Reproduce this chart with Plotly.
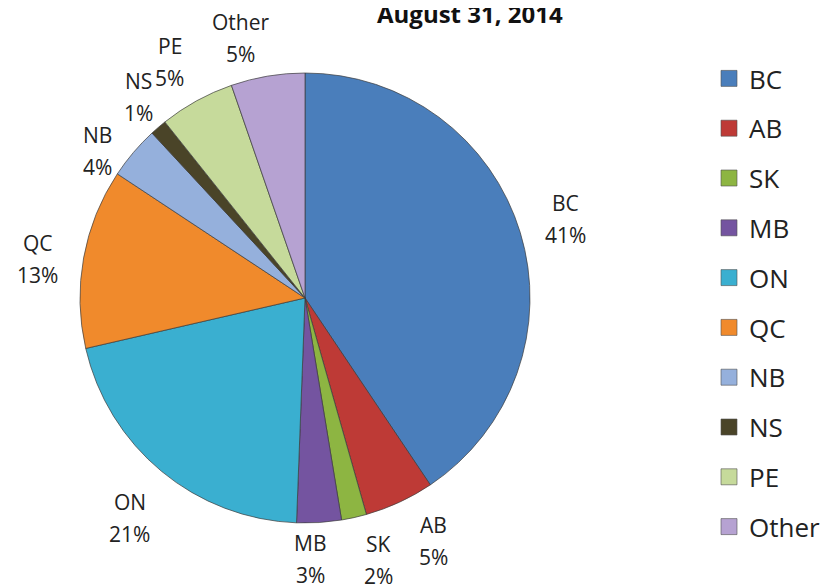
import math
import plotly.graph_objects as go

labels = ["BC", "AB", "SK", "MB", "ON", "QC", "NB", "NS", "PE", "Other"]
values = [40.6, 5.0, 1.8, 3.2, 20.8, 12.9, 3.8, 1.2, 5.4, 5.3]
pct_labels = ["41%", "5%", "2%", "3%", "21%", "13%", "4%", "1%", "5%", "5%"]
colors = ["#4A7EBB", "#BE3A36", "#8DB542", "#7454A0", "#3AAFD0",
          "#F08A2C", "#95B0DC", "#4A4428", "#C6DA9B", "#B6A2D2"]
title_text = "August 31, 2014"

# label placement style (angle nudge in degrees, radial factor)
lab_nudge = [0, -3, -3, 2.5, -1, -2, -5, 1, -1, -4.5]
lab_rad = [1.21, 1.22, 1.21, 1.16, 1.25, 1.20, 1.13, 1.16, 1.21, 1.19]

FONT = "Open Sans, sans-serif"
W, H = 835, 586
OFF = 8  # page body margin compensation
dom_x = [(80 - OFF) / W, (530 - OFF) / W]
dom_y = [(H - (523 - OFF)) / H, (H - (73 - OFF)) / H]

fig = go.Figure()
fig.add_trace(go.Pie(
    labels=labels, values=values, sort=False, direction="clockwise",
    marker=dict(colors=colors, line=dict(color="rgba(60,60,60,0.7)", width=1)),
    textinfo="none", showlegend=False,
    domain=dict(x=dom_x, y=dom_y),
    hoverinfo="label+percent",
))
for lab, col in zip(labels, colors):
    fig.add_trace(go.Scatter(
        x=[None], y=[None], mode="markers", name=lab, legendgroup=lab,
        marker=dict(symbol="square", size=16, color=col,
                    line=dict(color="rgba(80,80,80,0.6)", width=1)),
    ))

# outside labels derived from the slice angles
cx = (dom_x[0] + dom_x[1]) / 2
cy = (dom_y[0] + dom_y[1]) / 2
R = (dom_y[1] - dom_y[0]) * H / 2
total = sum(values)
annots = []
cum = 0.0
for lab, v, p, dn, rf in zip(labels, values, pct_labels, lab_nudge, lab_rad):
    mid = (cum + v / 2) / total * 360 + dn
    cum += v
    a = math.radians(mid)
    x = cx + math.sin(a) * R * rf / W
    y = cy + math.cos(a) * R * rf / H
    for txt, sh in ((lab, 16), (p, -16)):
        annots.append(dict(text=txt, xref="paper", yref="paper", x=x, y=y,
                           xanchor="center", yanchor="middle", yshift=sh,
                           showarrow=False,
                           font=dict(family=FONT, size=21, color="#222")))

annots.append(dict(text="<b>" + title_text + "</b>", xref="paper", yref="paper",
                   x=(470 - OFF) / W, y=1 - 5 / H, xanchor="center", yanchor="middle",
                   showarrow=False, font=dict(family=FONT, size=24, color="#111")))

fig.update_layout(
    width=W, height=H,
    margin=dict(l=0, r=0, t=0, b=0, autoexpand=False),
    paper_bgcolor="white", plot_bgcolor="white",
    xaxis=dict(visible=False), yaxis=dict(visible=False),
    legend=dict(x=701 / W, xanchor="left", y=1 - 47 / H, yanchor="top",
                font=dict(family=FONT, size=26, color="#222"),
                tracegroupgap=13, bgcolor="rgba(0,0,0,0)"),
    annotations=annots,
)
fig.write_html("out.html")
